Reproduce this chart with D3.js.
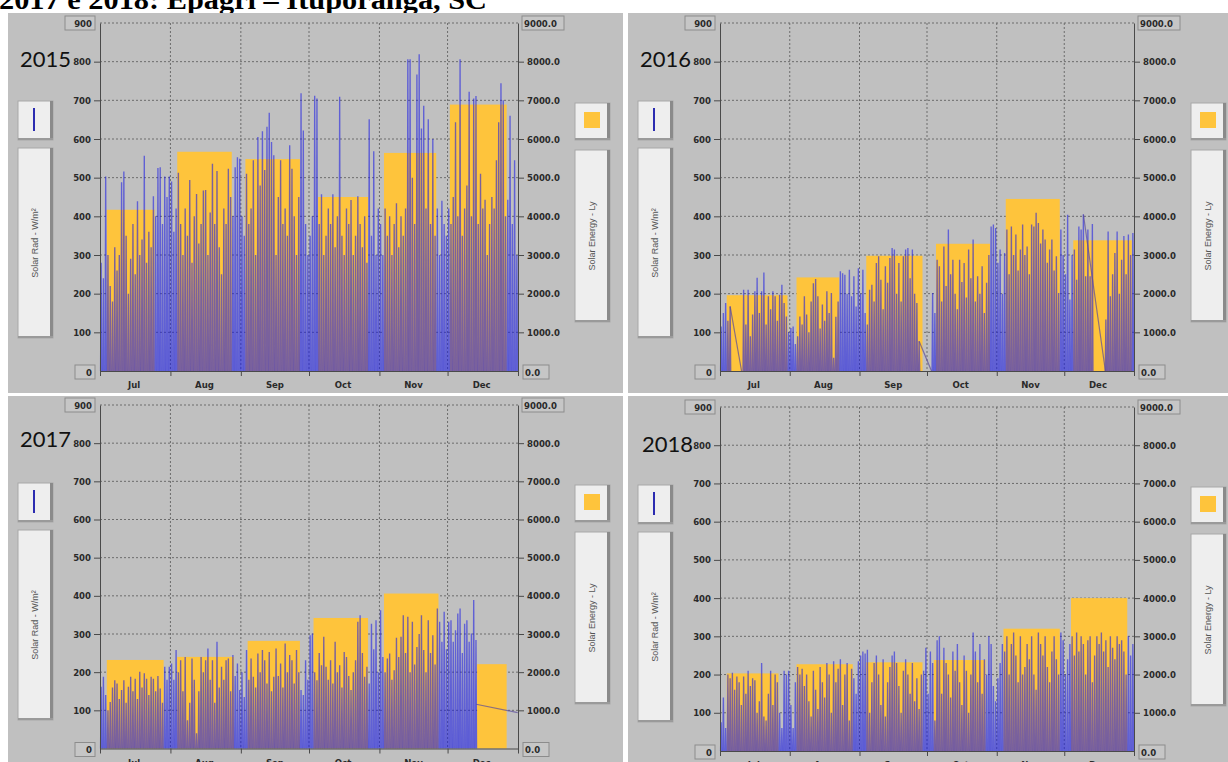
<!DOCTYPE html>
<html>
<head>
<meta charset="utf-8">
<script src="https://cdn.jsdelivr.net/npm/d3@7"></script>
<style>
  body { margin: 0; background: #fff; }
  svg { display: block; }
</style>
</head>
<body>
<svg id="chart" width="1228" height="762"></svg>
<script>
// ---- data ----
const titleText = "2017 e 2018: Epagri – Ituporanga, SC";
const months = ["Jul", "Aug", "Sep", "Oct", "Nov", "Dec"];
const years = [2015, 2016, 2017, 2018];

// monthly solar energy (Ly), right axis
const energy2015 = [4170, 5670, 5480, 4500, 5640, 6890];
const energy2016 = [1960, 2420, 2980, 3290, 4450, 3380];
const energy2017 = [2320, 2400, 2820, 3420, 4060, 2210];
const energy2018 = [2030, 2270, 2320, 2380, 3200, 4000];

// days (from the 1st of the month) that each monthly bar covers
const span2015 = [[3, 24], [3, 27], [2, 26], [4, 26], [2, 25], [1, 26]];
const span2016 = [[3, 30], [3, 22], [3, 28], [4, 28], [4, 28], [4, 30]];
const span2017 = [[3, 28], [3, 28], [3, 26], [2, 26], [2, 26], [13, 26]];
const span2018 = [[3, 26], [3, 28], [3, 28], [3, 26], [3, 28], [3, 28]];

// daily peak of solar radiation (W/m²), Jul 1 .. Dec 31, null = no data
const rad2015 = [
  280, 240, 503, 300, 220, 180, 320, 260, 300, 488, 516, 350, 200, 290, 380, 250, 439, 300, 340, 557, 280, 360, 320, 452, 400, 525, 527, 380, 503, 450, 503,
  490, 360, 420, 513, 380, 300, 420, 350, 494, 280, 400, 458, 330, 380, 467, 468, 300, 410, 536, 380, 517, 320, 250, 420, 380, 523, 450, 400, 527, 553, 549,
  400, 350, 510, 380, 420, 545, 300, 605, 480, 620, 520, 632, 668, 592, 558, 300, 450, 545, 380, 420, 350, 584, 523, 400, 300, 450, 718, 622, 380, 300,
  350, 400, 712, 705, 380, 457, 300, 350, 420, 380, 457, 320, 400, 709, 350, 300, 420, 380, 442, 300, 350, 452, 380, 320, 400, 280, 651, 350, 568, 300, 420,
  380, 300, 420, 350, 400, 300, 380, 434, 320, 400, 350, 420, 806, 806, 500, 380, 767, 819, 627, 686, 420, 651, 380, 600, 350, 420, 300, 440, 380, 350,
  420, 380, 450, 643, 400, 806, 350, 420, 480, 722, 400, 705, 711, 380, 510, 420, 443, 300, 380, 450, 420, 545, 643, 744, 700, 400, 443, 660, 380, 545, 300
];
const rad2016 = [
  115, 150, 176, 130, 167, null, null, null, null, null, 210, 120, 210, 90, 146, 206, 241, 150, 206, 255, 120, 193, 160, 206, 193, 130, 197, 223, 176, 141, 100,
  111, 115, 70, 90, 141, 120, 193, 146, 100, 180, 227, 238, 193, 110, 172, 130, 206, 150, 202, 34, 140, 180, 258, 253, 249, 200, 262, 193, 245, 167, 266,
  200, 262, 150, 120, 210, 223, 180, 279, 297, 236, 160, 271, 228, 292, 318, 314, 200, 279, 180, 297, 314, 318, 240, 314, 200, 176, 77, null, null, null,
  null, null, 202, 150, 288, 271, 180, 322, 220, 366, 250, 288, 200, 160, 288, 230, 279, 190, 314, 240, 340, 180, 245, 200, 271, 150, 228, 300, 374, 379, 370,
  280, 314, 200, 305, 366, 250, 374, 300, 353, 260, 314, 379, 300, 322, 250, 379, 374, 409, 383, 330, 366, 340, 280, 314, 340, 260, 297, 202, 366, 300,
  250, 404, 185, 300, 314, 236, 374, 366, 405, 245, 366, 245, 380, null, null, null, null, null, 133, 361, 193, 250, 305, 361, 200, 288, 349, 250, 353, 300, 357
];
const rad2017 = [
  162, 188, 140, 100, 122, 160, 179, 170, 130, 153, 179, 120, 162, 188, 150, 183, 130, 201, 160, 197, 183, 140, 188, 183, 150, 190, 157, 120, 214, 180, 214,
  223, 180, 258, 200, 231, 150, 240, 74, 120, 236, 180, 40, 150, 240, 200, 231, 262, 180, 231, 120, 280, 160, 214, 180, 231, 236, 150, 245, 190, 223, 153,
  200, 135, 258, 180, 236, 188, 160, 249, 200, 258, 231, 170, 253, 150, 188, 262, 190, 223, 160, 275, 200, 245, 231, 170, 258, 200, 153, 140, 231, 180,
  297, 301, 200, 179, 250, 218, 293, 214, 180, 231, 170, 280, 200, 218, 160, 253, 240, 190, 153, 200, 231, 332, 349, 250, 188, 214, 170, 327, 260, 336, 200,
  362, 240, 200, 236, 249, 180, 205, 290, 240, 293, 349, 250, 345, 200, 332, 220, 266, 300, 349, 258, 200, 336, 250, 297, 220, 367, 332, 280, 358, 260,
  332, 336, 280, 310, 354, 367, 250, 327, 336, 280, 301, 389, 284, null, null, null, null, null, null, null, null, null, null, null, null, null, null, null, null, null, null
];
const rad2018 = [
  75, 140, 60, 200, 190, 205, 160, 195, 180, 120, 195, 150, 210, 170, 190, 185, 100, 130, 230, 90, 80, 150, 210, 120, 200, 180, 100, 60, 210, 200, 210,
  120, 60, 180, 220, 200, 215, 170, 200, 130, 90, 210, 160, 110, 220, 180, 140, 230, 200, 100, 235, 180, 215, 240, 120, 200, 230, 80, 215, 190, 150, 235,
  250, 260, 255, 265, 100, 180, 230, 250, 200, 120, 240, 90, 180, 220, 250, 260, 230, 170, 100, 210, 240, 200, 150, 230, 130, 190, 110, 200, 210, 270,
  150, 260, 230, 80, 290, 300, 150, 270, 230, 200, 140, 260, 210, 280, 180, 120, 250, 210, 100, 200, 310, 260, 180, 280, 150, 240, 200, 300, 280, 170, 130,
  190, 230, 280, 260, 300, 200, 280, 310, 250, 180, 300, 200, 220, 280, 240, 300, 200, 160, 310, 280, 250, 300, 220, 180, 260, 300, 240, 200, 310, 290,
  200, 240, 280, 300, 250, 310, 260, 300, 280, 200, 290, 300, 180, 250, 300, 280, 310, 260, 290, 220, 300, 270, 240, 300, 280, 290, 260, 200, 300, 250, 280
];

// straight segments the logger drew across missing days: [dayFrom, valueFrom, dayTo, valueTo]
const gaps2015 = [];
const gaps2016 = [[4.5, 167, 9.6, 0], [88.5, 77, 94, 0], [161.5, 405, 171.3, 0]];
const gaps2017 = [[165.6, 116, 183.9, 94]];
const gaps2018 = [];

// ---- layout of the four screenshots ----
const panels = [
  { year: years[0], energy: energy2015, span: span2015, rad: rad2015, gaps: gaps2015,
    px: 8, py: 13, pw: 615, ph: 380, left: 100, right: 518, top: 23, bottom: 371, yearX: 20, yearY: 67 },
  { year: years[1], energy: energy2016, span: span2016, rad: rad2016, gaps: gaps2016,
    px: 628, py: 13, pw: 600, ph: 380, left: 720, right: 1134, top: 23, bottom: 371, yearX: 640, yearY: 67 },
  { year: years[2], energy: energy2017, span: span2017, rad: rad2017, gaps: gaps2017,
    px: 8, py: 396, pw: 615, ph: 366, left: 100, right: 518, top: 405, bottom: 748.5, yearX: 20, yearY: 447 },
  { year: years[3], energy: energy2018, span: span2018, rad: rad2018, gaps: gaps2018,
    px: 628, py: 396, pw: 600, ph: 366, left: 720, right: 1134, top: 407, bottom: 751, yearX: 642, yearY: 452 }
];

const tickFont = "'Liberation Sans Narrow', 'DejaVu Sans Condensed', Arial, sans-serif";
const gray = "#c0c0c0";
const yellow = "#fec43c";
const radBlue = "#1a1ae4";

const svg = d3.select("#chart");

// title, mostly hidden behind the screenshots
svg.append("text")
  .attr("x", -1)
  .attr("y", 9)
  .attr("textLength", 488)
  .attr("lengthAdjust", "spacingAndGlyphs")
  .style("font-family", "'Liberation Serif', 'DejaVu Serif', serif")
  .style("font-weight", "bold")
  .style("font-size", "27px")
  .attr("fill", "#000")
  .text(titleText);

function legendBox(g, x, y, w, h) {
  g.append("rect").attr("x", x).attr("y", y).attr("width", w).attr("height", h)
    .attr("fill", "#eeeeee").attr("stroke", "#a8a8a8").attr("stroke-width", 1);
  g.append("rect").attr("x", x + w - 3).attr("y", y).attr("width", 3).attr("height", h).attr("fill", "#8a8a8a");
  g.append("rect").attr("x", x).attr("y", y + h - 2).attr("width", w).attr("height", 2).attr("fill", "#9a9a9a");
}

function boxedLabel(g, x, y, w, txt, anchor) {
  g.append("rect").attr("x", x).attr("y", y - 7).attr("width", w).attr("height", 14)
    .attr("fill", "#c6c6c6").attr("stroke", "#8c8c8c").attr("stroke-width", 1);
  g.append("text")
    .attr("x", anchor === "end" ? x + w - 3 : x + 2)
    .attr("y", y + 3.5)
    .attr("text-anchor", anchor)
    .style("font-family", tickFont).style("font-weight", "bold").style("font-size", "9.5px")
    .attr("fill", "#2a2a2a")
    .text(txt);
}

function drawPanel(p) {
  const g = svg.append("g");
  g.append("rect").attr("x", p.px).attr("y", p.py).attr("width", p.pw).attr("height", p.ph).attr("fill", gray);

  const start = new Date(p.year, 6, 1);
  const end = new Date(p.year + 1, 0, 1);
  const x = d3.scaleTime().domain([start, end]).range([p.left, p.right]);
  const yL = d3.scaleLinear().domain([0, 900]).range([p.bottom, p.top]);
  const yR = d3.scaleLinear().domain([0, 9000]).range([p.bottom, p.top]);
  const monthStarts = d3.timeMonth.range(start, end);

  // dotted grid
  g.append("g").selectAll("line").data(d3.range(100, 901, 100)).join("line")
    .attr("x1", p.left).attr("x2", p.right)
    .attr("y1", d => yL(d)).attr("y2", d => yL(d))
    .attr("stroke", "#6c6c6c").attr("stroke-width", 1).attr("stroke-dasharray", "2,2");
  g.append("g").selectAll("line").data(monthStarts.slice(1)).join("line")
    .attr("x1", d => x(d)).attr("x2", d => x(d))
    .attr("y1", p.top).attr("y2", p.bottom)
    .attr("stroke", "#6c6c6c").attr("stroke-width", 1).attr("stroke-dasharray", "2,2");

  // monthly energy bars
  g.append("g").selectAll("rect").data(p.energy).join("rect")
    .attr("x", (d, i) => x(d3.timeDay.offset(monthStarts[i], p.span[i][0])))
    .attr("width", (d, i) => x(d3.timeDay.offset(monthStarts[i], p.span[i][1])) - x(d3.timeDay.offset(monthStarts[i], p.span[i][0])))
    .attr("y", d => yR(d))
    .attr("height", d => p.bottom - yR(d))
    .attr("fill", yellow);

  // radiation: one spike per day
  const at = (day, hour) => x(d3.timeHour.offset(start, day * 24 + hour));
  const line = d3.line();
  const days = p.rad.map((v, i) => ({ v, i })).filter(d => d.v !== null);
  g.append("g").selectAll("path").data(days).join("path")
    .attr("d", d => line([[at(d.i, 6), yL(0)], [at(d.i, 12), yL(d.v)], [at(d.i, 18), yL(0)]]))
    .attr("fill", "none")
    .attr("stroke", radBlue).attr("stroke-opacity", 0.58).attr("stroke-width", 1.35);
  g.append("g").selectAll("line").data(p.gaps).join("line")
    .attr("x1", d => at(d[0], 0)).attr("y1", d => yL(d[1]))
    .attr("x2", d => at(d[2], 0)).attr("y2", d => yL(d[3]))
    .attr("stroke", "#5a4a9a").attr("stroke-opacity", 0.7).attr("stroke-width", 1.2);

  // left axis
  const axL = g.append("g").attr("transform", `translate(${p.left},0)`);
  axL.call(d3.axisLeft(yL).tickValues(d3.range(0, 901, 20)).tickSize(3).tickSizeOuter(0).tickFormat(""));
  axL.call(d3.axisLeft(yL).tickValues(d3.range(100, 900, 100)).tickSize(6).tickSizeOuter(0).tickPadding(3));
  axL.selectAll("path, line").attr("stroke", "#4a4a4a");
  axL.selectAll("text").style("font-family", tickFont).style("font-weight", "bold").style("font-size", "9.5px").attr("fill", "#2a2a2a");
  boxedLabel(g, p.left - 35, yL(900), 30, "900", "end");
  boxedLabel(g, p.left - 25, yL(0) + 1, 20, "0", "end");

  // right axis
  const axR = g.append("g").attr("transform", `translate(${p.right},0)`);
  axR.call(d3.axisRight(yR).tickValues(d3.range(0, 9001, 200)).tickSize(3).tickSizeOuter(0).tickFormat(""));
  axR.call(d3.axisRight(yR).tickValues(d3.range(1000, 9000, 1000)).tickSize(6).tickSizeOuter(0).tickPadding(3).tickFormat(d3.format(".1f")));
  axR.selectAll("path, line").attr("stroke", "#4a4a4a");
  axR.selectAll("text").style("font-family", tickFont).style("font-weight", "bold").style("font-size", "9.5px").attr("fill", "#2a2a2a");
  boxedLabel(g, p.right + 4, yR(9000), 42, "9000.0", "start");
  boxedLabel(g, p.right + 5, yR(0) + 1, 26, "0.0", "start");

  // bottom axis: ticks on month edges, names in the middle
  const axB = g.append("g").attr("transform", `translate(0,${p.bottom})`);
  axB.call(d3.axisBottom(x).tickValues(monthStarts.concat([end])).tickSize(5).tickSizeOuter(0).tickFormat(""));
  axB.selectAll("path, line").attr("stroke", "#4a4a4a");
  g.append("g").selectAll("text").data(months).join("text")
    .attr("x", (d, i) => x(d3.timeDay.offset(monthStarts[i], 15)))
    .attr("y", p.bottom + 17)
    .attr("text-anchor", "middle")
    .style("font-family", tickFont).style("font-weight", "bold").style("font-size", "9.5px")
    .attr("fill", "#2a2a2a")
    .text(d => d);

  // left legend (line + label)
  legendBox(g, p.left - 82, p.top + 78, 35, 39);
  g.append("line")
    .attr("x1", p.left - 66).attr("x2", p.left - 66)
    .attr("y1", p.top + 85).attr("y2", p.top + 108)
    .attr("stroke", "#2b2bb0").attr("stroke-width", 2);
  legendBox(g, p.left - 82, p.top + 125, 35, 190);
  g.append("text")
    .attr("transform", `translate(${p.left - 62},${p.top + 220}) rotate(-90)`)
    .attr("text-anchor", "middle")
    .style("font-family", "'Liberation Sans', Arial, sans-serif").style("font-size", "9px")
    .attr("fill", "#555")
    .text("Solar Rad - W/m²");

  // right legend (bar + label)
  legendBox(g, p.right + 57, p.top + 80, 35, 37);
  g.append("rect")
    .attr("x", p.right + 66).attr("y", p.top + 89).attr("width", 16).attr("height", 16)
    .attr("fill", yellow);
  legendBox(g, p.right + 57, p.top + 127, 35, 172);
  g.append("text")
    .attr("transform", `translate(${p.right + 77},${p.top + 213}) rotate(-90)`)
    .attr("text-anchor", "middle")
    .style("font-family", "'Liberation Sans', Arial, sans-serif").style("font-size", "9px")
    .attr("fill", "#555")
    .text("Solar Energy - Ly");

  // year
  g.append("text")
    .attr("x", p.yearX).attr("y", p.yearY)
    .style("font-family", "Lato, 'Open Sans', sans-serif").style("font-size", "22px")
    .attr("fill", "#111")
    .text(p.year);
}

panels.forEach(drawPanel);
</script>
</body>
</html>
